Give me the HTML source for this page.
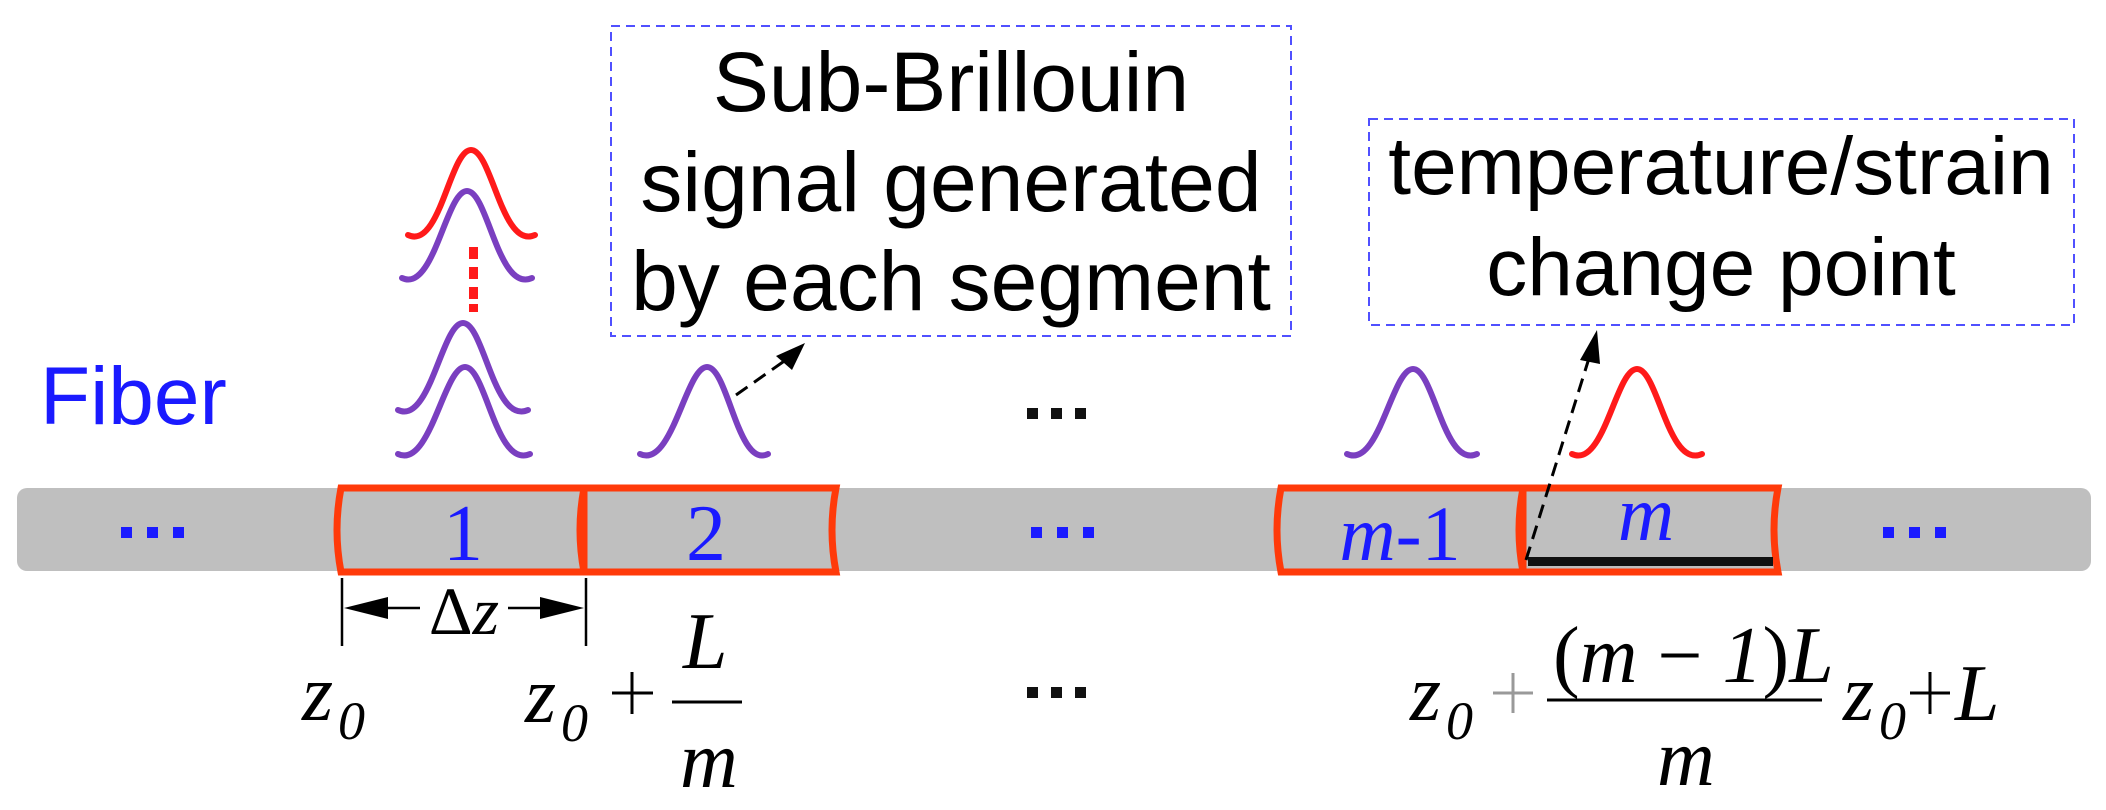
<!DOCTYPE html>
<html><head><meta charset="utf-8"><style>
html,body{margin:0;padding:0;background:#fff;}
svg{display:block;}
.s{font-family:"Liberation Sans",sans-serif;}
.t{font-family:"Liberation Serif",serif;font-style:italic;}
</style></head><body>
<svg width="2106" height="810" viewBox="0 0 2106 810" xmlns="http://www.w3.org/2000/svg">
<rect x="17" y="488" width="2074" height="83" rx="10" fill="#bfbfbf"/>
<g fill="none" stroke="#ff3a0a" stroke-width="7">
<path d="M341,488 H584 V572 H341 Q333,530 341,488 Z"/>
<path d="M584,488 H836 Q828,530 836,572 H584 Q576,530 584,488 Z"/>
<path d="M1281,488 H1523 V572 H1281 Q1273,530 1281,488 Z"/>
<path d="M1523,488 H1778 Q1770,530 1778,572 H1523 Q1515,530 1523,488 Z"/>
</g>
<rect x="1528" y="557" width="245" height="9" fill="#111"/>
<text x="40" y="424" class="s" font-size="82" fill="#1a1aff">Fiber</text>
<g fill="#1a1aff">
<rect x="121" y="527" width="11" height="11"/><rect x="147" y="527" width="11" height="11"/><rect x="173" y="527" width="11" height="11"/>
<rect x="1031" y="527" width="11" height="11"/><rect x="1057" y="527" width="11" height="11"/><rect x="1083" y="527" width="11" height="11"/>
<rect x="1883" y="527" width="11" height="11"/><rect x="1909" y="527" width="11" height="11"/><rect x="1935" y="527" width="11" height="11"/>
</g>
<g fill="#111">
<rect x="1027" y="408" width="11" height="11"/><rect x="1051" y="408" width="11" height="11"/><rect x="1075" y="408" width="11" height="11"/>
<rect x="1027" y="687" width="11" height="11"/><rect x="1051" y="687" width="11" height="11"/><rect x="1075" y="687" width="11" height="11"/>
</g>
<text x="463" y="560" font-size="80" fill="#1a1aff" text-anchor="middle" style="font-family:'Liberation Serif',serif">1</text>
<text x="706" y="560" font-size="80" fill="#1a1aff" text-anchor="middle" style="font-family:'Liberation Serif',serif">2</text>
<text x="1400" y="560" font-size="78" fill="#1a1aff" text-anchor="middle" style="font-family:'Liberation Serif',serif"><tspan font-style="italic">m</tspan>-1</text>
<text x="1646" y="540" font-size="78" fill="#1a1aff" text-anchor="middle" class="t">m</text>
<g fill="none" stroke-width="6" stroke-linecap="round">
<path d="M408,235 C440,250 450,150 471,150 C492,150 502,250 535,235" stroke="#ff1a1a"/>
<path d="M402,278 C434,293 446,191 467,191 C488,191 498,293 532,278" stroke="#7a3fc0"/>
<path d="M398,410 C430,425 442,323 463,323 C484,323 494,425 528,410" stroke="#7a3fc0"/>
<path d="M398,454 C430,469 444,367 465,367 C486,367 496,469 530,454" stroke="#7a3fc0"/>
<path d="M640,454 C672,469 686,367 707,367 C728,367 738,469 768,454" stroke="#7a3fc0"/>
<path d="M1347,454 C1379,469 1392,369 1413,369 C1434,369 1444,469 1477,454" stroke="#7a3fc0"/>
<path d="M1572,454 C1604,469 1616,369 1637,369 C1658,369 1668,469 1702,454" stroke="#ff1a1a"/>
</g>
<g fill="#ff1a1a"><rect x="469" y="247" width="9" height="12"/><rect x="469" y="267" width="9" height="12"/><rect x="469" y="287" width="9" height="12"/><rect x="469" y="304" width="9" height="8"/></g>
<g fill="none" stroke="#5050ff" stroke-width="2" stroke-dasharray="9,6">
<rect x="611" y="26" width="680" height="310"/>
<rect x="1369" y="119" width="705" height="206"/>
</g>
<g class="s" font-size="84" fill="#000" text-anchor="middle">
<text x="951" y="111">Sub-Brillouin</text>
<text x="951" y="211">signal generated</text>
<text x="951" y="310">by each segment</text>
</g>
<g class="s" font-size="82" fill="#000" text-anchor="middle">
<text x="1721" y="194">temperature/strain</text>
<text x="1721" y="295">change point</text>
</g>
<g stroke="#000" stroke-width="3" stroke-dasharray="14,8" fill="none">
<line x1="736" y1="395" x2="790" y2="357"/>
<line x1="1526" y1="560" x2="1590" y2="355"/>
</g>
<polygon points="805,343 776,356 792,370" fill="#000"/>
<polygon points="1597,330 1580,360 1600,364" fill="#000"/>
<g stroke="#000" stroke-width="2.5">
<line x1="342" y1="578" x2="342" y2="646"/>
<line x1="586" y1="578" x2="586" y2="646"/>
<line x1="360" y1="608" x2="420" y2="608"/>
<line x1="508" y1="608" x2="570" y2="608"/>
</g>
<polygon points="344,608 388,597 388,619" fill="#000"/>
<polygon points="584,608 540,597 540,619" fill="#000"/>
<text x="464" y="634" font-size="68" text-anchor="middle" style="font-family:'Liberation Serif',serif">Δ<tspan font-style="italic">z</tspan></text>
<g style="font-family:'Liberation Serif',serif" font-style="italic" fill="#000">
<text x="302" y="720" font-size="80">z</text><text x="338" y="739" font-size="54">0</text>
<text x="525" y="722" font-size="80">z</text><text x="561" y="741" font-size="54">0</text>
<text x="683" y="668" font-size="80">L</text>
<text x="680" y="787" font-size="80">m</text>
<text x="1410" y="720" font-size="80">z</text><text x="1446" y="739" font-size="54">0</text>
<text x="1553" y="682" font-size="80"><tspan font-style="normal">(</tspan>m<tspan font-style="normal"> − </tspan>1<tspan font-style="normal">)</tspan>L</text>
<text x="1657" y="785" font-size="80">m</text>
<text x="1843" y="720" font-size="80">z</text><text x="1879" y="739" font-size="54">0</text>
<text x="1955" y="720" font-size="80">L</text>
</g>
<g stroke="#000" stroke-width="3">
<line x1="672" y1="702" x2="742" y2="702"/>
<line x1="1547" y1="700" x2="1822" y2="700"/>
<line x1="612" y1="693" x2="653" y2="693"/><line x1="632" y1="672" x2="632" y2="714"/>
<line x1="1910" y1="693" x2="1950" y2="693"/><line x1="1930" y1="672" x2="1930" y2="714"/>
</g>
<g stroke="#999" stroke-width="3">
<line x1="1493" y1="693" x2="1533" y2="693"/><line x1="1513" y1="673" x2="1513" y2="713"/>
</g>
</svg>
</body></html>
